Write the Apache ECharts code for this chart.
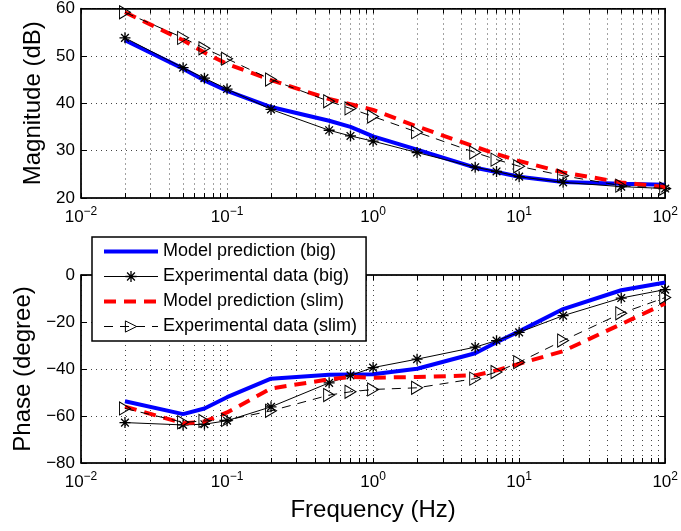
<!DOCTYPE html>
<html><head><meta charset="utf-8">
<script src="https://cdn.jsdelivr.net/npm/echarts@6/dist/echarts.min.js"></script>
<style>html,body{margin:0;padding:0;background:#fff}#c{width:681px;height:531px}</style>
</head><body><div id="c"></div>
<script>
var freq = [0.02,0.05,0.07,0.1,0.2,0.5,0.7,1,2,5,7,10,20,50,100];
var magModelBig  = [53.3,47.3,44.8,42.6,39.2,36.3,35.0,33.0,30.2,26.4,25.5,24.5,23.4,23.0,22.8];
var magExpBig    = [53.8,47.5,45.3,43.0,38.7,34.3,33.1,32.0,29.6,26.5,25.6,24.5,23.3,22.4,22.0];
var magModelSlim = [59.2,53.3,50.7,48.3,44.9,40.9,39.8,38.6,35.1,30.8,29.3,27.8,25.4,23.3,22.3];
var magExpSlim   = [59.2,53.8,51.6,49.4,45.0,40.4,38.9,37.2,33.9,29.6,28.1,26.7,24.7,22.6,22.0];
var phModelBig   = [-53.7,-59.2,-56.8,-52.0,-44.1,-42.4,-42.3,-42.2,-39.9,-33.3,-28.6,-24.0,-14.5,-6.5,-3.2];
var phExpBig     = [-62.8,-63.8,-63.5,-62.0,-56.1,-45.9,-42.7,-39.4,-35.8,-30.7,-27.9,-24.4,-17.3,-9.8,-6.2];
var phModelSlim  = [-56.0,-63.1,-62.4,-58.5,-48.3,-44.4,-43.4,-43.7,-43.4,-42.7,-40.6,-37.8,-32.4,-20.9,-12.1];
var phExpSlim    = [-56.8,-62.7,-62.1,-61.7,-57.8,-51.1,-49.7,-48.7,-48.0,-44.1,-41.3,-37.1,-27.9,-16.3,-9.6];
var names = ['Model prediction (big)','Experimental data (big)','Model prediction (slim)','Experimental data (slim)'];
var decadeTicks = [0.01,0.1,1,10,100];
var allXTicks = [];
for (var d = -2; d < 2; d++) { for (var m = 1; m < 10; m++) allXTicks.push(+(m*Math.pow(10,d)).toPrecision(3)); }
allXTicks.push(100);

var FONT = 'Liberation Sans, Arial, sans-serif';
var STAR = 'path://M5,0L5,10M0,5L10,5M1.5,1.5L8.5,8.5M1.5,8.5L8.5,1.5';
var TRI = 'path://M0,0L10,6L0,12Z';

function pairs(ys){ return freq.map(function(f,i){ return [f, ys[i]]; }); }
function fmtX(v){
  var e = Math.round(Math.log(v)/Math.LN10);
  return '{b|10}{s|' + String(e).replace('-', '\u2212') + '}';
}
function xAxes(gi, showLabels, pos){
  var isMain = pos === 'bottom';
  return {
    type:'log', logBase:10, min:0.01, max:100, gridIndex:gi, position:pos,
    axisLine:{show:true, onZero:false, lineStyle:{color:'#000', width:1.5}},
    axisTick:{show:true, inside:true, length:5, customValues: allXTicks, lineStyle:{color:'#000', width:1}},
    axisLabel:{show:showLabels, customValues: decadeTicks, formatter: fmtX, margin:8,
      rich:{b:{fontSize:17, fontFamily:FONT, color:'#000'}, s:{fontSize:12, fontFamily:FONT, color:'#000', verticalAlign:'bottom', padding:[0,0,10,0]}}},
    splitLine:{show:isMain, lineStyle:{color:'#444', width:1, type:[1,4]}},
    minorTick:{show:false}, minorSplitLine:{show:false}
  };
}
function yAxes(gi, min, max, interval, pos, name, gap){
  var isMain = pos === 'left';
  var a = {
    type:'value', gridIndex:gi, position:pos, min:min, max:max, interval:interval,
    axisLine:{show:true, onZero:false, lineStyle:{color:'#000', width:1.5}},
    axisTick:{show:true, inside:true, length:6, lineStyle:{color:'#000'}},
    axisLabel:{show:isMain, fontSize:17, fontFamily:FONT, color:'#000', margin:6,
      formatter:function(v){ return String(v).replace('-', '\u2212'); }},
    splitLine:{show:isMain, lineStyle:{color:'#444', width:1, type:[1,4]}}
  };
  if (name) { a.name = name; a.nameLocation='middle'; a.nameGap=gap;
    a.nameTextStyle={fontSize:24, fontFamily:FONT, color:'#000'}; }
  return a;
}
function mk(name, xi, yi, ys, kind){
  var s = {name:name, type:'line', xAxisIndex:xi, yAxisIndex:yi, data:pairs(ys), animation:false, z:kind.z};
  if (kind.k === 'mb') {
    s.symbol='none'; s.itemStyle={color:'transparent'}; s.lineStyle={color:'#0000ff', width:4};
  } else if (kind.k === 'ms') {
    s.symbol='none'; s.itemStyle={color:'transparent'}; s.lineStyle={color:'#ff0000', width:4, type:[12,8]};
  } else if (kind.k === 'eb') {
    s.symbol=STAR; s.symbolSize=11; s.showAllSymbol=true;
    s.itemStyle={color:'transparent', borderColor:'#000', borderWidth:1.3};
    s.lineStyle={color:'#000', width:1};
  } else {
    s.symbol=TRI; s.symbolSize=[11,13]; s.showAllSymbol=true;
    s.itemStyle={color:'transparent', borderColor:'#000', borderWidth:1};
    s.lineStyle={color:'#000', width:1, type:[9,7]};
  }
  return s;
}
var kinds = [{k:'mb',z:2},{k:'eb',z:3},{k:'ms',z:4},{k:'es',z:5}];
var magSets = [magModelBig, magExpBig, magModelSlim, magExpSlim];
var phSets = [phModelBig, phExpBig, phModelSlim, phExpSlim];
var series = [];
for (var i=0;i<4;i++) series.push(mk(names[i], 0, 0, magSets[i], kinds[i]));
for (var i=0;i<4;i++) series.push(mk(names[i], 2, 2, phSets[i], kinds[i]));

var chart = echarts.init(document.getElementById('c'), null, {renderer:'canvas'});
chart.setOption({
  backgroundColor:'#fff',
  animation:false,
  grid:[
    {left:81, top:5, width:586, height:193, show:true, borderColor:'#000', borderWidth:1, backgroundColor:'#fff'},
    {left:81, top:275, width:586, height:188, show:true, borderColor:'#000', borderWidth:1, backgroundColor:'#fff'}
  ],
  xAxis:[xAxes(0,true,'bottom'), xAxes(0,false,'top'),
         (function(){ var a = xAxes(1,true,'bottom'); a.name='Frequency (Hz)'; a.nameLocation='middle'; a.nameGap=35;
           a.nameTextStyle={fontSize:24, fontFamily:FONT, color:'#000'}; return a; })(),
         xAxes(1,false,'top')],
  yAxis:[yAxes(0,20,60,10,'left','Magnitude (dB)',34), yAxes(0,20,60,10,'right'),
         yAxes(1,-80,0,20,'left','Phase (degree)',42), yAxes(1,-80,0,20,'right')],
  legend:{
    data:names, orient:'vertical', left:92, top:237,
    backgroundColor:'#fff', borderColor:'#000', borderWidth:1.5, borderRadius:0,
    padding:[5,9,5,10], itemGap:6, itemWidth:54, itemHeight:14,
    textStyle:{fontSize:18, lineHeight:19, fontFamily:FONT, color:'#000'},
    lineStyle:{width:'inherit', type:'inherit'},
    itemStyle:{borderWidth:'inherit'},
    selectedMode:false, z:20
  },
  series:series
});
</script></body></html>
